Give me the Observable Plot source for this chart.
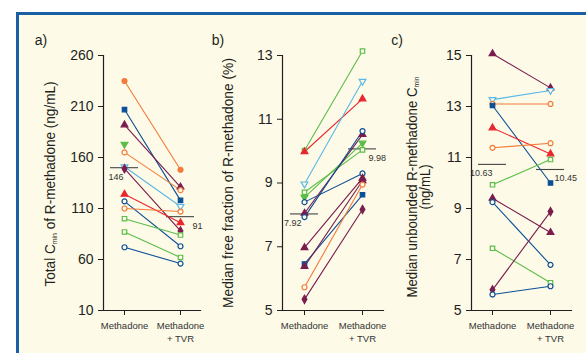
<!DOCTYPE html>
<html><head><meta charset="utf-8">
<script src="https://cdn.jsdelivr.net/npm/d3@7"></script>
<script src="https://cdn.jsdelivr.net/npm/@observablehq/plot@0.6"></script>
<style>
html,body{margin:0;padding:0;background:#fff;}
#wrap{position:relative;width:586px;height:353px;overflow:hidden;background:#fff;}
#box{position:absolute;left:16px;top:12px;width:620px;height:400px;background:#FDFAE7;border-top:3px solid #1A5FA3;border-left:3px solid #1A5FA3;}
.panel{position:absolute;top:0;}
</style></head>
<body><div id="wrap"><div id="box"></div></div>
<script>
// ---------- data ----------
const categories = ["Methadone", "Methadone\n+ TVR"];

// panel a: Total Cmin of R-methadone (ng/mL)
const ticksA = [10, 60, 110, 160, 210, 260];
const seriesA = ["orangeCircle","blueSquare","purpleTri","greenTriDown","orangeDiamond","lightblueTriDown","purpleDiamond","redTri","blueCircle","orangeDiamond","greenSquare","greenSquare","blueCircle"];
const methadoneA = [235, 207, 192, 173, 165, 151, 149, 124, 117, 110, 100, 87, 72];
const tvrA = [148, 118, 131, null, 128, 112, 88, 96, 73, 107, 84, 62, 56];
const medianLineA = [150, 102];
const medianTextA = ["146", "91"];

// panel b: Median free fraction of R-methadone (%)
const ticksB = [5, 7, 9, 11, 13];
const seriesB = ["greenSquare","redTri","lightblueTriDown","greenSquare","greenTriDown","blueCircle","purpleTri","blueCircle","purpleTri","blueSquare","purpleTri","orangeDiamond","purpleDiamond"];
const methadoneB = [10.02, 9.98, 8.97, 8.71, 8.55, 8.40, 8.05, 7.93, 6.97, 6.46, 6.38, 5.73, 5.35];
const tvrB = [13.14, 11.64, 12.19, 10.04, 10.25, 9.30, 10.52, 10.63, 9.15, 8.63, 9.07, 8.95, 8.17];
const medianLineB = [8.03, 10.07];
const medianTextB = ["7.92", "9.98"];

// panel c: Median unbounded R-methadone Cmin (ng/mL)
const ticksC = [5, 7, 9, 11, 13, 15];
const seriesC = ["purpleTri","lightblueTriDown","orangeDiamond","blueSquare","redTri","orangeDiamond","greenSquare","purpleTri","blueCircle","greenSquare","purpleDiamond","blueCircle"];
const methadoneC = [15.07, 13.27, 13.10, 13.04, 12.16, 11.38, 9.93, 9.40, 9.25, 7.44, 5.81, 5.63];
const tvrC = [13.73, 13.63, 13.10, 10.00, 11.14, 11.56, 10.92, 8.06, 6.79, 6.09, 8.88, 5.95];
const medianLineC = [10.73, 10.53];
const medianTextC = ["10.63", "10.45"];

// ---------- styles ----------
const CREAM = "#FDFAE7", INK = "#231F20";
const FONT = "'Liberation Sans',Arial,sans-serif";
const markerStyle = {
  orangeCircle:     {color: "#F47B3A", symbol: "circle",   filled: true,  rotate: 0},
  orangeDiamond:    {color: "#F47B3A", symbol: "circle",   filled: false, rotate: 0},
  blueSquare:       {color: "#0B4F96", symbol: "square",   filled: true,  rotate: 0},
  blueCircle:       {color: "#0B4F96", symbol: "circle",   filled: false, rotate: 0},
  purpleTri:        {color: "#7A1D4E", symbol: "triangle", filled: true,  rotate: 0},
  purpleDiamond:    {color: "#7A1D4E", symbol: "diamond",  filled: true,  rotate: 0},
  greenTriDown:     {color: "#5BBE4A", symbol: "triangle", filled: true,  rotate: 180},
  greenSquare:      {color: "#5BBE4A", symbol: "square",   filled: false, rotate: 0},
  lightblueTriDown: {color: "#5CB8E6", symbol: "triangle", filled: false, rotate: 180},
  redTri:           {color: "#E9262E", symbol: "triangle", filled: true,  rotate: 0}
};

function buildRows(series, meth, tvr) {
  const rows = [];
  series.forEach((s, i) => {
    [meth[i], tvr[i]].forEach((v, j) => {
      if (v != null) rows.push({id: i, style: s, cat: categories[j], value: v});
    });
  });
  return rows;
}

function panel(cfg) {
  const rows = buildRows(cfg.series, cfg.meth, cfg.tvr);
  const med = cfg.medLine.map((v, j) => ({cat: categories[j], value: v, label: cfg.medText[j]}));
  const st = d => markerStyle[d.style];
  const svg = Plot.plot({
    width: cfg.width, height: 353,
    marginLeft: cfg.marginLeft, marginRight: cfg.marginRight, marginTop: 55, marginBottom: 43,
    style: {background: "transparent", fontFamily: FONT, color: INK, overflow: "visible"},
    x: {type: "point", domain: categories, padding: 0.36, label: null},
    y: {domain: cfg.domain, label: null},
    marks: [
      Plot.frame({anchor: "left", stroke: INK, strokeWidth: 1.2}),
      Plot.frame({anchor: "bottom", stroke: INK, strokeWidth: 1.2}),
      Plot.axisY(cfg.ticks, {tickSize: 5, tickPadding: 5, fontSize: 14, label: null, stroke: INK, fill: INK}),
      Plot.axisX({tickSize: 5, tickPadding: 5, fontSize: 9.5, label: null, lineHeight: 1.3, stroke: INK, fill: "#333"}),
      Plot.ruleY(med, {x1: "cat", x2: "cat", y: "value", insetLeft: -14, insetRight: -14, stroke: "#444", strokeWidth: 1.1}),
      Plot.text(med.slice(0, 1), {x: "cat", y: "value", text: "label", textAnchor: "end", dx: cfg.leftDx, dy: 9, fontSize: 9, fill: "#333"}),
      Plot.text(med.slice(1), {x: "cat", y: "value", text: "label", textAnchor: "start", dx: cfg.rightDx, dy: 9, fontSize: 9, fill: "#333"}),
      Plot.line(rows, {x: "cat", y: "value", z: "id", stroke: d => st(d).color, strokeWidth: 1.1}),
      Plot.dot(rows, {x: "cat", y: "value", r: 2.5, symbol: d => st(d).symbol, rotate: d => st(d).rotate,
        stroke: d => st(d).color, fill: d => st(d).filled ? st(d).color : CREAM, strokeWidth: 1.2})
    ]
  });
  svg.classList.add("panel");
  svg.style.left = cfg.left + "px";
  const s = d3.select(svg);
  s.append("text").attr("x", cfg.tagX).attr("y", 45).attr("font-size", 14).attr("fill", INK)
    .attr("font-family", FONT).text(cfg.tag);
  cfg.yLabel.forEach((line, k) => {
    const t = s.append("text")
      .attr("transform", `translate(${cfg.labelX[k]},${cfg.labelY}) rotate(-90)`)
      .attr("text-anchor", "middle").attr("font-size", 14.5).attr("fill", INK).attr("font-family", FONT)
      .attr("textLength", cfg.labelLen[k]).attr("lengthAdjust", "spacingAndGlyphs");
    line.forEach(part => {
      if (part.sub) t.append("tspan").attr("font-size", 7.5).attr("dy", 2).text(part.sub);
      else t.append("tspan").attr("dy", part.after ? -2 : 0).text(part.t);
    });
  });
  document.getElementById("wrap").appendChild(svg);
}

panel({left: 0, width: 205, marginLeft: 103, marginRight: 5, domain: [10, 260], ticks: ticksA,
  series: seriesA, meth: methadoneA, tvr: tvrA, medLine: medianLineA, medText: medianTextA,
  leftDx: -1, rightDx: 12, tag: "a)", tagX: 41,
  yLabel: [[{t: "Total C"}, {sub: "min"}, {t: " of R-methadone (ng/mL)", after: true}]], labelX: [55], labelY: 184, labelLen: [205]});

panel({left: 190, width: 200, marginLeft: 92, marginRight: 7, domain: [5, 13], ticks: ticksB,
  series: seriesB, meth: methadoneB, tvr: tvrB, medLine: medianLineB, medText: medianTextB,
  leftDx: -3, rightDx: 6, tag: "b)", tagX: 28,
  yLabel: [[{t: "Median free fraction of R-methadone (%)"}]], labelX: [43], labelY: 183, labelLen: [250]});

panel({left: 380, width: 206, marginLeft: 91, marginRight: 15, domain: [5, 15], ticks: ticksC,
  series: seriesC, meth: methadoneC, tvr: tvrC, medLine: medianLineC, medText: medianTextC,
  leftDx: 0, rightDx: 4, tag: "c)", tagX: 17,
  yLabel: [[{t: "Median unbounded R-methadone C"}, {sub: "min"}], [{t: "(ng/mL)"}]], labelX: [37, 50], labelY: 187, labelLen: [221, 45]});
</script>
</body></html>
